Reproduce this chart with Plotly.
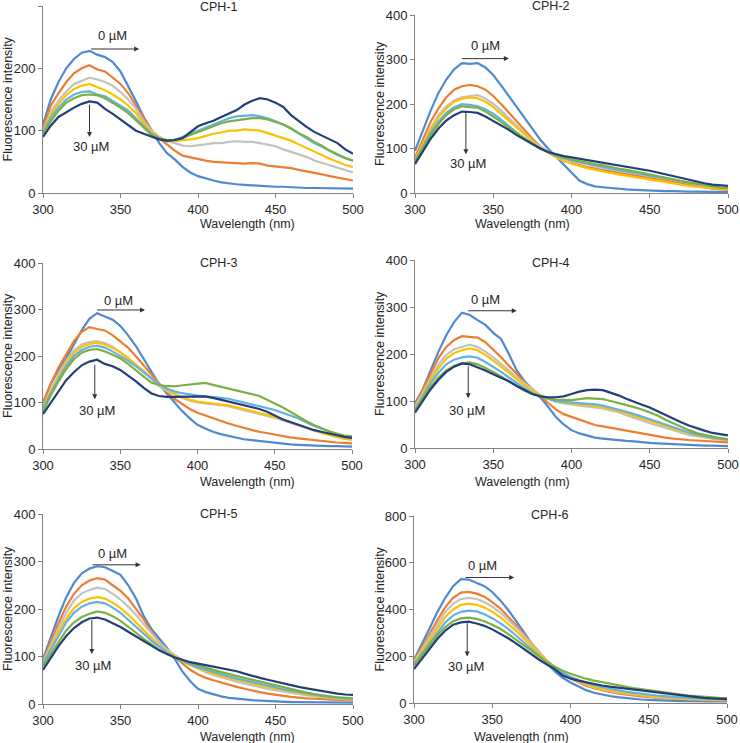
"""Fluorescence quenching spectra of CPH-1..CPH-6 (Plotly HTML)."""

import plotly.graph_objects as go
from plotly.subplots import make_subplots

# wavelength grid (nm), shared by every spectrum
WAVELENGTH = list(range(300, 501, 5))

CONC = ["0 µM", "5 µM", "10 µM", "15 µM", "20 µM", "25 µM", "30 µM"]
COLORS = ["#4F89D2", "#ED7D31", "#C2C2C2", "#FFC000", "#62B1E6", "#7DB041", "#233F7A"]

PANELS = ["CPH-1", "CPH-2", "CPH-3", "CPH-4", "CPH-5", "CPH-6"]
Y_MAX = [300, 400, 400, 400, 400, 800]
Y_DTICK = [100, 100, 100, 100, 100, 200]

cph1 = [
    [110, 150, 178, 200, 215, 225, 228, 222, 218, 210, 195, 172, 147, 122, 100, 80, 64, 54, 42, 33, 27,
     23, 20, 17, 15, 14, 13, 12, 11, 11, 10, 10, 9, 9, 8, 8, 8, 7, 7, 7, 7],
    [105, 140, 160, 178, 192, 200, 205, 198, 195, 185, 175, 160, 140, 118, 100, 88, 78, 68, 60, 57, 54,
     52, 50, 49, 48, 48, 47, 48, 47, 44, 43, 42, 40, 37, 35, 32, 30, 27, 25, 22, 20],
    [100, 130, 148, 163, 175, 180, 185, 182, 178, 172, 162, 150, 135, 115, 100, 90, 84, 80, 76, 75, 76,
     78, 80, 80, 82, 83, 82, 82, 80, 78, 75, 70, 66, 62, 58, 52, 48, 44, 40, 36, 33],
    [100, 125, 143, 157, 167, 172, 175, 170, 165, 158, 150, 140, 128, 112, 98, 90, 85, 83, 84, 86, 88,
     92, 95, 97, 100, 100, 102, 101, 100, 96, 92, 88, 84, 78, 72, 66, 60, 55, 50, 45, 42],
    [98, 120, 137, 150, 158, 162, 163, 158, 155, 148, 140, 132, 120, 107, 95, 88, 84, 85, 90, 95, 100,
     106, 110, 116, 120, 123, 124, 125, 123, 120, 115, 110, 103, 95, 88, 80, 74, 67, 61, 56, 52],
    [95, 115, 132, 145, 152, 157, 158, 157, 152, 145, 137, 128, 117, 105, 93, 87, 83, 85, 88, 93, 98,
     103, 108, 112, 115, 117, 118, 120, 120, 118, 114, 110, 104, 96, 90, 82, 76, 68, 62, 56, 52],
    [90, 108, 122, 130, 137, 143, 147, 145, 135, 127, 118, 108, 100, 95, 90, 86, 84, 85, 88, 98, 107,
     112, 116, 122, 128, 133, 142, 148, 152, 150, 145, 138, 125, 115, 106, 98, 92, 87, 80, 70, 63],
]

cph2 = [
    [95, 140, 185, 225, 255, 278, 292, 290, 292, 282, 265, 242, 218, 192, 168, 145, 120, 100, 82, 62, 45,
     28, 20, 15, 13, 11, 9, 8, 7, 6, 5, 5, 4, 4, 3, 3, 3, 3, 2, 2, 2],
    [80, 120, 160, 190, 215, 232, 240, 243, 240, 232, 218, 200, 180, 160, 140, 122, 105, 92, 82, 72, 67,
     62, 58, 55, 52, 48, 45, 42, 39, 36, 33, 30, 27, 24, 21, 18, 15, 12, 10, 8, 7],
    [75, 110, 145, 175, 195, 208, 215, 218, 220, 212, 200, 185, 168, 150, 133, 118, 104, 93, 85, 78, 73,
     68, 64, 60, 56, 53, 50, 47, 44, 41, 38, 35, 32, 28, 25, 22, 19, 16, 13, 11, 10],
    [75, 110, 142, 170, 190, 205, 212, 215, 213, 205, 193, 178, 162, 146, 130, 116, 102, 90, 80, 72, 66,
     61, 56, 52, 48, 45, 42, 39, 36, 33, 30, 28, 25, 22, 19, 16, 14, 12, 10, 9, 8],
    [72, 105, 135, 160, 180, 193, 200, 198, 195, 188, 178, 165, 150, 136, 123, 112, 100, 92, 84, 78, 73,
     70, 66, 62, 58, 55, 52, 49, 46, 43, 40, 36, 33, 30, 26, 23, 20, 17, 14, 12, 11],
    [72, 102, 130, 155, 175, 188, 195, 193, 192, 183, 172, 160, 147, 134, 121, 110, 100, 92, 86, 80, 75,
     72, 68, 65, 62, 58, 55, 52, 49, 46, 42, 38, 35, 31, 27, 24, 20, 17, 14, 12, 11],
    [65, 95, 122, 145, 163, 175, 183, 182, 180, 172, 162, 152, 142, 130, 120, 110, 100, 92, 87, 83, 80,
     77, 75, 72, 68, 65, 62, 60, 57, 54, 50, 46, 42, 38, 33, 29, 25, 22, 19, 17, 16],
]

cph3 = [
    [100, 140, 170, 195, 225, 255, 280, 292, 285, 278, 265, 245, 222, 195, 165, 140, 120, 100, 82, 66, 52,
     44, 37, 32, 28, 24, 21, 19, 17, 15, 13, 11, 10, 9, 8, 7, 7, 6, 6, 6, 5],
    [100, 140, 175, 205, 232, 252, 262, 258, 255, 245, 232, 218, 200, 180, 160, 140, 122, 108, 96, 86, 78,
     72, 66, 60, 55, 50, 45, 41, 37, 34, 30, 27, 25, 23, 21, 19, 17, 15, 14, 13, 12],
    [90, 125, 160, 190, 212, 225, 230, 232, 228, 220, 208, 195, 180, 165, 150, 136, 125, 117, 110, 104, 100,
     98, 96, 94, 92, 88, 84, 80, 76, 72, 67, 62, 57, 52, 46, 40, 35, 30, 26, 22, 20],
    [90, 123, 155, 185, 207, 220, 226, 228, 225, 218, 208, 196, 183, 168, 153, 140, 128, 120, 112, 106, 102,
     100, 98, 96, 94, 90, 86, 82, 78, 74, 69, 64, 58, 52, 46, 40, 35, 30, 26, 22, 20],
    [88, 120, 150, 178, 200, 213, 220, 222, 218, 210, 200, 190, 178, 165, 152, 140, 130, 124, 120, 117, 115,
     113, 112, 110, 108, 104, 100, 96, 92, 88, 84, 78, 72, 66, 58, 50, 44, 38, 32, 27, 23],
    [80, 115, 145, 172, 193, 207, 213, 215, 210, 203, 195, 183, 170, 155, 143, 138, 135, 135, 137, 139, 140,
     142, 138, 134, 130, 127, 123, 118, 114, 106, 98, 90, 80, 70, 61, 52, 45, 38, 33, 29, 27],
    [75, 100, 125, 148, 165, 180, 188, 192, 183, 178, 170, 158, 146, 132, 120, 114, 112, 112, 112, 113, 113,
     113, 110, 106, 102, 98, 95, 90, 86, 80, 72, 64, 58, 52, 46, 41, 37, 33, 29, 26, 24],
]

cph4 = [
    [95, 125, 165, 205, 240, 268, 288, 283, 272, 262, 245, 232, 200, 165, 142, 125, 108, 88, 66, 50, 38,
     31, 26, 22, 20, 18, 16, 15, 14, 12, 11, 10, 9, 8, 7, 6, 6, 5, 5, 4, 4],
    [90, 125, 160, 192, 215, 230, 238, 236, 235, 225, 210, 193, 175, 157, 140, 125, 110, 95, 82, 72, 66,
     60, 54, 49, 46, 43, 40, 36, 33, 30, 27, 25, 22, 20, 18, 17, 16, 15, 14, 13, 12],
    [88, 118, 150, 178, 198, 210, 215, 220, 215, 205, 193, 180, 165, 150, 137, 125, 113, 105, 98, 95, 92,
     90, 88, 86, 84, 80, 76, 70, 64, 58, 53, 48, 43, 38, 33, 28, 25, 22, 20, 18, 17],
    [85, 115, 145, 170, 190, 202, 208, 212, 208, 198, 186, 173, 160, 146, 133, 122, 112, 105, 100, 97, 95,
     93, 91, 89, 87, 83, 79, 74, 68, 63, 58, 52, 47, 41, 36, 31, 27, 24, 21, 19, 18],
    [82, 110, 138, 160, 178, 188, 193, 195, 192, 183, 173, 162, 150, 138, 127, 117, 110, 105, 100, 98, 97,
     96, 95, 93, 90, 86, 82, 77, 72, 67, 62, 56, 50, 44, 38, 33, 29, 25, 22, 20, 18],
    [80, 105, 130, 150, 165, 175, 180, 182, 178, 170, 162, 152, 142, 132, 122, 115, 110, 106, 103, 102, 102,
     104, 106, 105, 104, 100, 96, 92, 87, 82, 76, 69, 60, 52, 45, 38, 32, 28, 24, 21, 19],
    [75, 100, 125, 145, 162, 173, 180, 178, 172, 165, 157, 150, 142, 132, 123, 115, 110, 108, 108, 110, 115,
     120, 123, 124, 123, 118, 112, 105, 98, 92, 86, 78, 70, 62, 55, 48, 42, 37, 32, 29, 27],
]

cph5 = [
    [95, 140, 185, 225, 255, 275, 285, 290, 288, 280, 272, 250, 222, 185, 158, 138, 118, 95, 68, 48, 32,
     25, 20, 16, 13, 11, 10, 8, 7, 6, 5, 5, 4, 4, 4, 3, 3, 3, 3, 3, 3],
    [90, 130, 170, 205, 232, 250, 260, 265, 262, 250, 238, 222, 200, 178, 152, 130, 112, 98, 85, 72, 62,
     55, 50, 45, 40, 36, 32, 28, 25, 22, 19, 17, 15, 13, 12, 11, 10, 9, 8, 8, 7],
    [88, 125, 160, 192, 218, 233, 240, 245, 242, 232, 220, 205, 188, 168, 148, 130, 115, 103, 92, 82, 74,
     67, 61, 56, 51, 47, 43, 39, 35, 32, 29, 26, 23, 20, 18, 16, 14, 12, 11, 10, 9],
    [85, 120, 152, 180, 202, 215, 222, 225, 222, 213, 202, 188, 172, 155, 138, 123, 110, 100, 90, 82, 75,
     69, 64, 59, 55, 51, 47, 43, 39, 36, 32, 29, 26, 23, 20, 18, 16, 14, 12, 11, 10],
    [85, 115, 145, 172, 192, 205, 212, 215, 212, 203, 192, 178, 163, 148, 133, 120, 108, 98, 90, 83, 77,
     72, 67, 62, 58, 54, 50, 46, 42, 38, 35, 31, 28, 25, 22, 19, 17, 15, 13, 12, 11],
    [80, 105, 132, 155, 172, 183, 190, 195, 192, 185, 175, 163, 150, 137, 125, 114, 105, 98, 92, 86, 81,
     76, 71, 67, 63, 59, 55, 51, 47, 43, 39, 35, 31, 27, 24, 21, 18, 16, 14, 13, 12],
    [72, 98, 122, 143, 160, 172, 180, 182, 178, 170, 162, 152, 142, 132, 122, 113, 105, 98, 93, 88, 85,
     82, 79, 76, 73, 69, 64, 59, 55, 51, 47, 43, 39, 36, 33, 30, 27, 24, 22, 20, 19],
]

cph6 = [
    [185, 250, 320, 390, 450, 500, 530, 528, 515, 500, 475, 440, 400, 355, 305, 255, 210, 170, 135, 108, 88,
     70, 55, 44, 36, 30, 25, 21, 17, 15, 13, 11, 10, 9, 8, 8, 7, 7, 7, 7, 7],
    [180, 235, 295, 355, 410, 450, 472, 475, 468, 455, 432, 405, 372, 335, 295, 255, 215, 180, 150, 125, 105,
     88, 74, 63, 54, 47, 41, 36, 32, 28, 25, 22, 20, 18, 16, 14, 13, 12, 11, 10, 10],
    [175, 228, 285, 340, 390, 425, 445, 450, 445, 432, 412, 388, 358, 325, 290, 253, 215, 182, 153, 128, 108,
     92, 78, 67, 58, 51, 45, 40, 35, 31, 28, 25, 22, 20, 18, 16, 15, 14, 13, 12, 12],
    [170, 220, 272, 322, 368, 400, 420, 425, 420, 408, 390, 367, 340, 310, 277, 243, 208, 177, 150, 127, 108,
     92, 79, 68, 60, 53, 47, 42, 37, 33, 30, 27, 24, 22, 20, 18, 16, 15, 14, 13, 13],
    [165, 210, 258, 303, 345, 375, 390, 395, 392, 380, 363, 342, 318, 290, 260, 230, 200, 172, 148, 128, 112,
     98, 86, 76, 68, 61, 55, 49, 44, 40, 36, 32, 29, 26, 24, 22, 20, 19, 18, 17, 16],
    [160, 205, 250, 290, 325, 350, 362, 365, 360, 350, 335, 318, 296, 272, 247, 222, 197, 175, 155, 138, 125,
     114, 104, 96, 89, 82, 76, 70, 64, 59, 54, 49, 44, 40, 36, 32, 29, 26, 24, 22, 21],
    [145, 190, 235, 275, 310, 335, 345, 348, 340, 330, 315, 298, 278, 256, 232, 208, 185, 164, 145, 118, 105,
     96, 88, 81, 75, 70, 66, 62, 58, 53, 49, 44, 40, 36, 32, 28, 25, 22, 20, 18, 17],
]

SPECTRA = [cph1, cph2, cph3, cph4, cph5, cph6]

# arrow placement per panel (data coords): 0 µM arrow tail/head, label; 30 µM arrow tail/head, label
ARROWS = [
    dict(h=(330, 362, 231), h_lab=(345, 252), v=(330, 144, 90), v_lab=(331, 74)),
    dict(h=(329, 360, 302), h_lab=(345, 332), v=(332.5, 186, 87), v_lab=(334, 66)),
    dict(h=(334, 366, 299), h_lab=(349, 320), v=(333.5, 184, 107), v_lab=(335, 83)),
    dict(h=(333, 365, 292), h_lab=(345, 315), v=(334, 177, 106), v_lab=(333, 80)),
    dict(h=(331, 363, 293), h_lab=(345, 316), v=(331.5, 180, 105), v_lab=(332, 82)),
    dict(h=(332, 364, 537), h_lab=(344, 589), v=(334, 348, 199), v_lab=(333, 156)),
]

W, H = 740, 743
# plot-area boxes in pixels: (left, right, top, bottom)
BOXES = [
    (43, 353, 6, 193), (415, 728, 15, 193),
    (43, 352, 263, 449), (415, 728, 260, 448),
    (43, 353, 514, 704), (414, 727, 516, 703),
]
TITLE_Y = [7, 6, 263, 263, 514, 515]
XTITLE_Y = [224, 224, 482, 482, 737, 737]

FONT = "Liberation Sans, Arial, sans-serif"
TXT = "#262626"
AX = "#808080"

fig = make_subplots(rows=3, cols=2)

annotations = []
for k, (name, spectra) in enumerate(zip(PANELS, SPECTRA)):
    row, col = k // 2 + 1, k % 2 + 1
    for s, (label, color) in enumerate(zip(CONC, COLORS)):
        fig.add_trace(
            go.Scatter(
                x=WAVELENGTH,
                y=spectra[s],
                mode="lines",
                name=label,
                line=dict(color=color, width=2.2),
                showlegend=False,
            ),
            row=row,
            col=col,
        )

    l, r, t, b = BOXES[k]
    fig.update_xaxes(
        domain=[l / W, r / W], range=[300, 500], dtick=50, tick0=300,
        showline=True, linecolor=AX, linewidth=1,
        ticks="outside", ticklen=4, tickcolor=AX,
        showgrid=False, zeroline=False, automargin=False,
        tickfont=dict(size=13, color=TXT, family=FONT),
        row=row, col=col,
    )
    fig.update_yaxes(
        domain=[1 - b / H, 1 - t / H], range=[0, Y_MAX[k]], dtick=Y_DTICK[k],
        showline=True, linecolor=AX, linewidth=1,
        ticks="outside", ticklen=4, tickcolor=AX,
        showgrid=False, zeroline=False, automargin=False,
        tickfont=dict(size=13, color=TXT, family=FONT),
        row=row, col=col,
    )

    xc = (l + r) / 2 / W
    annotations.append(dict(
        text=name, xref="paper", yref="paper", x=xc, y=1 - TITLE_Y[k] / H,
        showarrow=False, yanchor="middle", font=dict(size=12.5, color=TXT, family=FONT),
    ))
    annotations.append(dict(
        text="Wavelength (nm)", xref="paper", yref="paper", x=xc, y=1 - XTITLE_Y[k] / H,
        showarrow=False, yanchor="middle", font=dict(size=12.5, color=TXT, family=FONT),
    ))
    annotations.append(dict(
        text="Fluorescence intensity", xref="paper", yref="paper",
        x=(l - 35) / W, y=1 - (t + b) / 2 / H, textangle=-90,
        showarrow=False, xanchor="center", yanchor="middle",
        font=dict(size=12.5, color=TXT, family=FONT),
    ))

    # concentration arrows
    xa = "x" if k == 0 else f"x{k + 1}"
    ya = "y" if k == 0 else f"y{k + 1}"
    a = ARROWS[k]
    x0, x1, yh = a["h"]
    annotations.append(dict(
        x=x1, y=yh, ax=x0, ay=yh, xref=xa, yref=ya, axref=xa, ayref=ya,
        text="", showarrow=True, arrowhead=2, arrowsize=1, arrowwidth=1, arrowcolor="#333",
    ))
    annotations.append(dict(
        text="0 µM", x=a["h_lab"][0], y=a["h_lab"][1], xref=xa, yref=ya,
        showarrow=False, font=dict(size=13, color=TXT, family=FONT),
    ))
    xv, yv0, yv1 = a["v"]
    annotations.append(dict(
        x=xv, y=yv1, ax=xv, ay=yv0, xref=xa, yref=ya, axref=xa, ayref=ya,
        text="", showarrow=True, arrowhead=2, arrowsize=1, arrowwidth=1, arrowcolor="#333",
    ))
    annotations.append(dict(
        text="30 µM", x=a["v_lab"][0], y=a["v_lab"][1], xref=xa, yref=ya,
        showarrow=False, font=dict(size=13, color=TXT, family=FONT),
    ))

fig.update_layout(
    width=W,
    height=H,
    margin=dict(l=0, r=0, t=0, b=0),
    paper_bgcolor="white",
    plot_bgcolor="white",
    font=dict(family=FONT, color=TXT),
    annotations=annotations,
)

# drop the page's default 8px body margin so the figure sits flush in the window
fig.write_html(
    "out.html",
    config={"displayModeBar": False},
    post_script="document.body.style.margin='0';",
)
